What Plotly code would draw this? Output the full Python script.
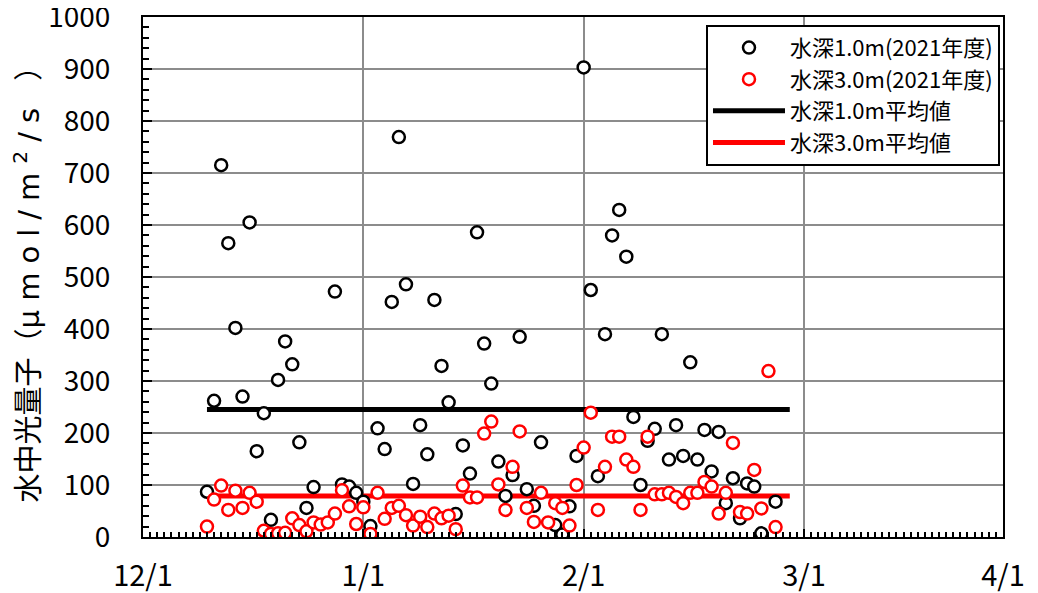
import plotly.graph_objects as go
import pandas as pd

# ---- data ----
start_date = "2021-12-10"
end_date = "2022-02-28"
depth1_values = [87, 262, 715, 565, 402, 270, 605, 165, 238, 33, 302, 376, 332, 182, 56, 96,
                 None, None, 472, 101, 97, 85, 68, 21, 209, 169, 452, 769, 486, 102, 215, 159,
                 456, 329, 259, 44, 176, 122, 586, 372, 295, 145, 79, 119, 385, 92, 60, 182,
                 None, 23, 5, 59, 156, 903, 475, 117, 390, 580, 629, 539, 231, 100, 185, 208,
                 390, 149, 215, 156, 336, 149, 206, 126, 202, 65, 113, 36, 103, 97, 7, None, 68]
depth3_values = [20, 72, 99, 52, 89, 56, 85, 68, 12, 6, 7, 8, 36, 23, 11, 28,
                 24, 28, 45, 90, 59, 25, 57, 6, 85, 35, 56, 60, 42, 22, 39, 19,
                 45, 36, 41, 15, 99, 76, 76, 199, 222, 101, 52, 135, 203, 56, 29, 85,
                 28, 65, 56, 22, 100, 172, 239, 52, 135, 193, 193, 149, 135, 52, 193, 82,
                 82, 85, 77, 65, 85, 85, 106, 97, 45, 85, 181, 48, 45, 129, 55, 319, 19]
mean_dates = ["2021-12-10", "2022-03-02"]
mean_depth1 = 245
mean_depth3 = 79
tick_dates = ["2021-12-01", "2022-01-01", "2022-02-01", "2022-03-04", "2022-04-01"]
tick_labels = ["12/1", "1/1", "2/1", "3/1", "4/1"]
names = ["水深1.0m(2021年度)", "水深3.0m(2021年度)", "水深1.0m平均値", "水深3.0m平均値"]
y_title = ("水中光量子（μ <span style=\"letter-spacing:9px\">mol/m<sup>2</sup>/s</span>"
           "<span style=\"letter-spacing:9px\"> </span>）")

dates = pd.date_range(start_date, end_date, freq="D")

FONT = "Noto Sans CJK JP, Noto Sans, sans-serif"
TITLE_FONT = "DejaVu Sans, Noto Sans CJK JP, sans-serif"

fig = go.Figure()
fig.add_trace(go.Scatter(x=mean_dates, y=[mean_depth1] * 2, mode="lines", name=names[2],
                         line=dict(color="black", width=5), legendrank=3))
fig.add_trace(go.Scatter(x=mean_dates, y=[mean_depth3] * 2, mode="lines", name=names[3],
                         line=dict(color="#ff0000", width=5), legendrank=4))
fig.add_trace(go.Scatter(x=dates, y=depth1_values, mode="markers", name=names[0],
                         marker=dict(symbol="circle", size=12, color="white",
                                     line=dict(color="black", width=2.5)), legendrank=1))
fig.add_trace(go.Scatter(x=dates, y=depth3_values, mode="markers", name=names[1],
                         marker=dict(symbol="circle", size=12, color="white",
                                     line=dict(color="#ff0000", width=2.5)), legendrank=2))

# page body adds an 8px offset, so the figure is drawn 8px smaller
fig.update_layout(
    width=1030, height=585,
    margin=dict(l=135, r=35, t=9, b=56, autoexpand=False),
    paper_bgcolor="white", plot_bgcolor="white",
    font=dict(family=FONT, color="black"),
    showlegend=True,
    legend=dict(x=0.9965, xanchor="right", y=0.985, yanchor="top",
                bgcolor="white", bordercolor="black", borderwidth=2,
                font=dict(size=22, family=FONT), itemwidth=72,
                tracegroupgap=0),
    xaxis=dict(
        type="date", range=["2021-12-01", "2022-04-01"],
        tickmode="array", tickvals=tick_dates, ticktext=tick_labels,
        showgrid=True, gridcolor="#8c8c8c", gridwidth=1.5,
        showline=True, linecolor="black", linewidth=2, mirror=True,
        ticks="inside", ticklen=8, tickwidth=2, tickcolor="black",
        minor=dict(dtick=86400000, tick0="2021-12-01", ticks="inside", ticklen=5,
                   tickwidth=1.5, tickcolor="black", showgrid=False),
        tickfont=dict(size=29, family=FONT), ticklabelstandoff=12,
        ticklabeloverflow="allow", automargin=False,
        zeroline=False,
    ),
    yaxis=dict(
        range=[0, 1000], tickmode="array", tickvals=list(range(0, 1001, 100)),
        showgrid=True, gridcolor="#8c8c8c", gridwidth=1.5,
        showline=True, linecolor="black", linewidth=2, mirror=True,
        ticks="inside", ticklen=9, tickwidth=2, tickcolor="black",
        minor=dict(dtick=20, tick0=0, ticks="inside", ticklen=6, tickwidth=1.5,
                   tickcolor="black", showgrid=False),
        tickfont=dict(size=28, family=FONT), ticklabelstandoff=25,
        ticklabeloverflow="allow", automargin=False,
        title=dict(text=y_title, font=dict(size=29, family=TITLE_FONT),
                   standoff=6),
        zeroline=False,
    ),
)

fig.write_html("out.html")
